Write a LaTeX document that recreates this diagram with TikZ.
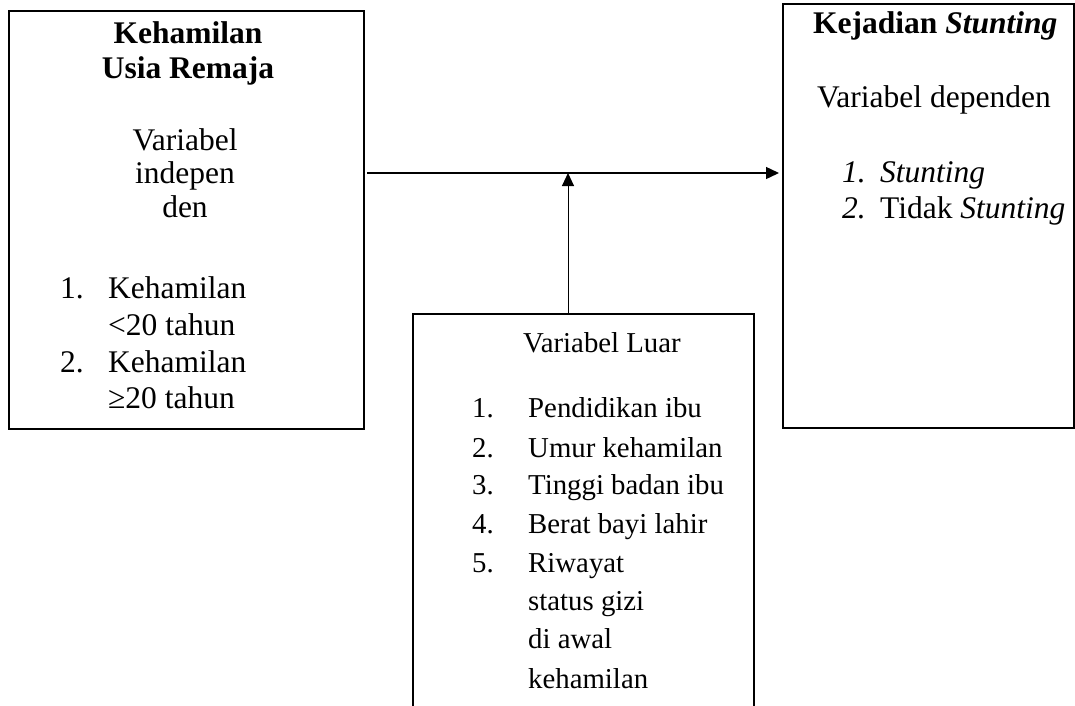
\documentclass[tikz,border=0pt]{standalone}
\usepackage{fontspec}
\setmainfont{Liberation Serif}
\usetikzlibrary{arrows.meta}
\begin{document}
\begin{tikzpicture}[x=1pt,y=-1pt,
  box/.style={draw,line width=1.8pt,inner sep=0,anchor=north west},
  txt/.style={inner sep=0,font=\fontsize{31.5}{34}\selectfont},
  txts/.style={inner sep=0,font=\fontsize{28.8}{34}\selectfont},
  conn/.style={line width=1.4pt,-{Triangle[length=13pt,width=12pt]}}]
\clip (0,0) rectangle (1075,705);
% boxes
\node[box,minimum width=355pt,minimum height=418pt] (L) at (8,10) {};
\node[box,minimum width=291pt,minimum height=424pt] (R) at (782,3) {};
\node[box,minimum width=341pt,minimum height=420pt] (B) at (412,313) {};
% left box text
\node[txt,anchor=base] (lt1) at (188,43) {\textbf{Kehamilan}};
\node[txt,anchor=base] (lt2) at (188,78) {\textbf{Usia Remaja}};
\node[txt,anchor=base] (lv1) at (185,150) {Variabel};
\node[txt,anchor=base] (lv2) at (185,183) {indepen};
\node[txt,anchor=base] (lv3) at (185,217) {den};
\node[txt,anchor=base west] (ln1) at (60,298) {1.};
\node[txt,anchor=base west] (li1) at (108,298) {Kehamilan};
\node[txt,anchor=base west] (li1b) at (108,335) {<20 tahun};
\node[txt,anchor=base west] (ln2) at (60,372) {2.};
\node[txt,anchor=base west] (li2) at (108,372) {Kehamilan};
\node[txt,anchor=base west] (li2b) at (108,408) {≥20 tahun};
% right box text
\node[txt,anchor=base west] (rt) at (813,33) {\textbf{Kejadian \textit{Stunting}}};
\node[txt,anchor=base west] (rv) at (817,107) {Variabel dependen};
\node[txt,anchor=base west] (rn1) at (842,182) {\textit{1.}};
\node[txt,anchor=base west] (ri1) at (880,182) {\textit{Stunting}};
\node[txt,anchor=base west] (rn2) at (842,218) {\textit{2.}};
\node[txt,anchor=base west] (ri2) at (880,218) {Tidak \textit{Stunting}};
% bottom box text
\node[txts,anchor=base west] (bt) at (523,352) {Variabel Luar};
\node[txts,anchor=base west] (bn1) at (472,417) {1.};
\node[txts,anchor=base west] (bi1) at (528,417) {Pendidikan ibu};
\node[txts,anchor=base west] (bn2) at (472,457) {2.};
\node[txts,anchor=base west] (bi2) at (528,457) {Umur kehamilan};
\node[txts,anchor=base west] (bn3) at (472,494) {3.};
\node[txts,anchor=base west] (bi3) at (528,494) {Tinggi badan ibu};
\node[txts,anchor=base west] (bn4) at (472,533) {4.};
\node[txts,anchor=base west] (bi4) at (528,533) {Berat bayi lahir};
\node[txts,anchor=base west] (bn5) at (472,572) {5.};
\node[txts,anchor=base west] (bi5) at (528,572) {Riwayat};
\node[txts,anchor=base west] (bi5b) at (528,610) {status gizi};
\node[txts,anchor=base west] (bi5c) at (528,648) {di awal};
\node[txts,anchor=base west] (bi5d) at (528,688) {kehamilan};
% connectors
\coordinate (hs) at (367,173);
\coordinate (mid) at (568,173);
\draw[conn,shorten >=3pt] (hs) -- (R.west |- hs);
\draw[conn,line width=1pt] (B.north -| mid) -- (mid);
\end{tikzpicture}
\end{document}
